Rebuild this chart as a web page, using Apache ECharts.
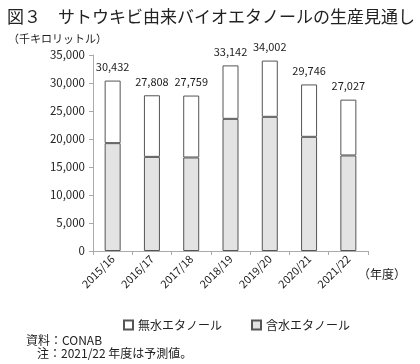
<!DOCTYPE html>
<html><head><meta charset="utf-8">
<script src="https://cdn.jsdelivr.net/npm/echarts@6/dist/echarts.min.js"></script>
<style>html,body{margin:0;padding:0;background:#fff}#c{width:420px;height:364px}</style>
</head><body><div id="c"></div>
<script>
const categories = ['2015/16','2016/17','2017/18','2018/19','2019/20','2020/21','2021/22'];
const totals = [30432, 27808, 27759, 33142, 34002, 29746, 27027];
const hydrous = [19260, 16810, 16700, 23600, 23960, 20390, 17060];
const anhydrous = [11172, 10998, 11059, 9542, 10042, 9356, 9967];
const yTicks = [0, 5000, 10000, 15000, 20000, 25000, 30000, 35000];

const FONT = '"Noto Sans CJK JP", sans-serif';
const fmt = v => String(v).replace(/\B(?=(\d{3})+(?!\d))/g, ',');
const chart = echarts.init(document.getElementById('c'));
chart.setOption({
  animation: false,
  textStyle: {fontFamily: FONT, color: '#222'},
  title: {
    text: '図３　サトウキビ由来バイオエタノールの生産見通し',
    left: 2, top: 3,
    textStyle: {fontFamily: FONT, fontSize: 17, fontWeight: 'normal', color: '#222'}
  },
  legend: {
    data: ['無水エタノール', '含水エタノール'],
    top: 314, left: 118, itemGap: 29,
    icon: 'rect', itemWidth: 9, itemHeight: 9,
    textStyle: {fontFamily: FONT, fontSize: 12, color: '#222'}
  },
  grid: {left: 93, right: 52, top: 55, bottom: 113, containLabel: false},
  xAxis: {
    type: 'category', data: categories,
    axisLine: {lineStyle: {color: '#aaa'}},
    axisTick: {show: true, length: 4, lineStyle: {color: '#aaa'}},
    axisLabel: {rotate: 45, fontSize: 11, color: '#222', margin: 6, fontFamily: FONT}
  },
  yAxis: {
    type: 'value', min: yTicks[0], max: yTicks[yTicks.length-1], interval: 5000,
    splitLine: {show: false},
    axisLine: {show: true, lineStyle: {color: '#aaa'}},
    axisTick: {show: true, length: 4, lineStyle: {color: '#aaa'}},
    axisLabel: {fontSize: 11.5, color: '#222', margin: 8, formatter: v => fmt(v), fontFamily: FONT}
  },
  series: [
    {
      name: '含水エタノール', type: 'bar', stack: 't', data: hydrous, barWidth: 16,
      itemStyle: {color: '#e3e3e3', borderColor: '#555', borderWidth: 1}
    },
    {
      name: '無水エタノール', type: 'bar', stack: 't', data: anhydrous, barWidth: 16,
      itemStyle: {color: '#fff', borderColor: '#555', borderWidth: 1},
      label: {show: true, position: 'top', distance: 8, fontSize: 11, color: '#222', fontFamily: FONT,
        formatter: p => fmt(totals[p.dataIndex])}
    }
  ],
  graphic: [
    {type: 'text', left: 8, top: 33, style: {text: '（千キロリットル）', font: '11px ' + FONT, fill: '#222'}},
    {type: 'text', left: 358, top: 268, style: {text: '（年度）', font: '12px ' + FONT, fill: '#222'}},
    {type: 'text', left: 26, top: 334, style: {text: '資料：CONAB', font: '12px ' + FONT, fill: '#222'}},
    {type: 'text', left: 37, top: 347, style: {text: '注：2021/22 年度は予測値。', font: '12px ' + FONT, fill: '#222'}}
  ]
});
</script></body></html>
